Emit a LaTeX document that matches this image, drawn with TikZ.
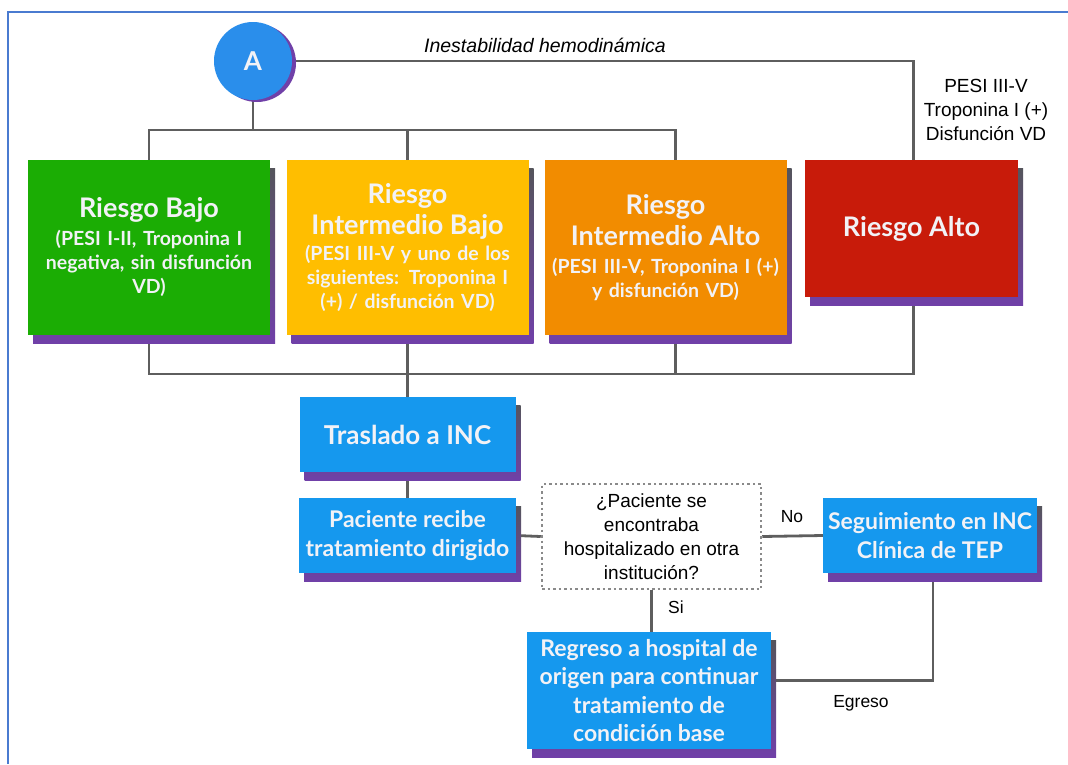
\documentclass[tikz,border=0pt]{standalone}
\usepackage{fontspec}
\setmainfont{Liberation Sans}
\newfontfamily\boxfont{Lato}
\usetikzlibrary{shadows}
\usetikzlibrary{backgrounds}
\usetikzlibrary{positioning}

\definecolor{framecol}{HTML}{4A7BD0}
\definecolor{circcol}{HTML}{2A8EEB}
\definecolor{bajocol}{HTML}{1BAD04}
\definecolor{imbcol}{HTML}{FFBE00}
\definecolor{imacol}{HTML}{F28C00}
\definecolor{altocol}{HTML}{C81B0A}
\definecolor{actcol}{HTML}{1598EE}
\definecolor{boxtext}{HTML}{F2F2F6}
\definecolor{shgray}{HTML}{55555C}
\definecolor{shpurple}{HTML}{7040A8}
\definecolor{conncol}{HTML}{5E5E5E}
\definecolor{dotcol}{HTML}{8A8A8A}

\newcommand{\ttl}{\fontsize{27}{31.5}\selectfont}
\newcommand{\sub}{\fontsize{19.5}{24}\selectfont}

\tikzset{
  boxshadow/.style={general shadow={shadow xshift=5pt, shadow yshift=-8pt,
      top color=shgray, bottom color=shpurple}},
  riskbox/.style={rectangle, minimum width=242pt, minimum height=175pt,
      text width=234pt, align=center, inner sep=0pt, text=boxtext,
      font=\boxfont\bfseries\fontsize{19.5}{24}\selectfont, boxshadow},
  actbox/.style={rectangle, fill=actcol, text=boxtext, align=center,
      inner sep=0pt, font=\boxfont\bfseries\fontsize{23}{28.5}\selectfont, boxshadow},
  circnode/.style={circle, minimum size=78pt, fill=circcol, text=boxtext,
      font=\boxfont\bfseries\fontsize{26}{28}\selectfont,
      general shadow={shadow xshift=4pt, shadow yshift=-2pt, fill=shpurple}},
  askbox/.style={rectangle, draw=dotcol, line width=2.5pt,
      dash pattern=on 2.5pt off 3pt, align=center, inner sep=0pt,
      font=\fontsize{19}{24}\selectfont},
  lbl/.style={font=\fontsize{17.5}{24}\selectfont, align=center},
  conn/.style={draw=conncol, line width=2.8pt},
  frameline/.style={draw=framecol, line width=1.6pt}
}

\begin{document}
\begin{tikzpicture}[x=1pt, y=-1pt]
  \useasboundingbox (0,0) rectangle (1068,764);
  \draw[frameline] (8,764) -- (8,12) -- (1068,12);

  \node[circnode] (A) at (253,61) {A};

  \node[riskbox, fill=bajocol] (bajo) at (149,247.5)
    {\ttl Riesgo Bajo\\[4pt] \sub (PESI I-II, Troponina I\\ negativa, sin disfunción\\ VD)};
  \node[riskbox, fill=imbcol] (imb) at (407.5,247.5)
    {\ttl Riesgo\\ Intermedio Bajo\\[2pt] \sub (PESI III-V y uno de los\\ siguientes: Troponina I\\ (+) / disfunción VD)};
  \node[riskbox, fill=imacol] (ima) at (665.5,247.5)
    {\ttl Riesgo\\ Intermedio Alto\\[4pt] \sub (PESI III-V, Troponina I (+)\\ y disfunción VD)};
  \node[riskbox, fill=altocol, minimum width=213pt, minimum height=137pt, text width=205pt] (alto) at (911.5,228.5)
    {\ttl Riesgo Alto};

  \node[actbox, minimum width=216pt, minimum height=75pt, font=\boxfont\bfseries\fontsize{26}{30}\selectfont] (traslado) at (407.5,434.5) {Traslado a INC};
  \node[actbox, minimum width=217pt, minimum height=75pt] (paciente) at (407.5,535.5) {Paciente recibe\\ tratamiento dirigido};
  \node[askbox, minimum width=219pt, minimum height=105pt] (ask) at (651.5,536.5)
    {¿Paciente se\\ encontraba\\ hospitalizado en otra\\ institución?};
  \node[actbox, minimum width=214pt, minimum height=75pt] (segui) at (930,535.5) {Seguimiento en INC\\ Clínica de TEP};
  \node[actbox, minimum width=244pt, minimum height=117pt] (regreso) at (649,690.5)
    {Regreso a hospital de\\ origen para continuar\\ tratamiento de\\ condición base};

  % etiquetas
  \node[lbl, font=\itshape\fontsize{19.5}{24}\selectfont] (inest) at (545,45) {Inestabilidad hemodinámica};
  \node[lbl, font=\fontsize{19}{24}\selectfont] (pesi) at (986,110) {PESI III-V\\ Troponina I (+)\\ Disfunción VD};
  \node[lbl] (no) at (792,517) {No};
  \node[lbl] (si) at (676,607) {Si};
  \node[lbl] (egreso) at (861,703) {Egreso};

  \coordinate (j1) at (253,130);
  \coordinate (j2) at (408,374);

  \begin{scope}[on background layer]
    \draw[conn] (A.east) -| ([xshift=2pt]alto.north);
    \draw[conn] (A.south) -- (j1);
    \draw[conn] (bajo.north) |- (j1);
    \draw[conn] (imb.north) |- (j1);
    \draw[conn] ([xshift=10pt]ima.north) |- (j1);
    \draw[conn] (bajo.south) |- (j2);
    \draw[conn] ([xshift=10pt]ima.south) |- (j2);
    \draw[conn] ([xshift=2pt]alto.south) |- (j2);
    \draw[conn] (imb.south) -- (traslado.north);
    \draw[conn] (traslado.south) -- (paciente.north);
    \draw[conn] (paciente.east) -- (ask.west);
    \draw[conn] (ask.east) -- (segui.west);
    \draw[conn] (ask.south) -- (ask.south |- regreso.north);
    \draw[conn] ([xshift=3pt]segui.south) |- ([yshift=10pt]regreso.east);
  \end{scope}
\end{tikzpicture}
\end{document}
